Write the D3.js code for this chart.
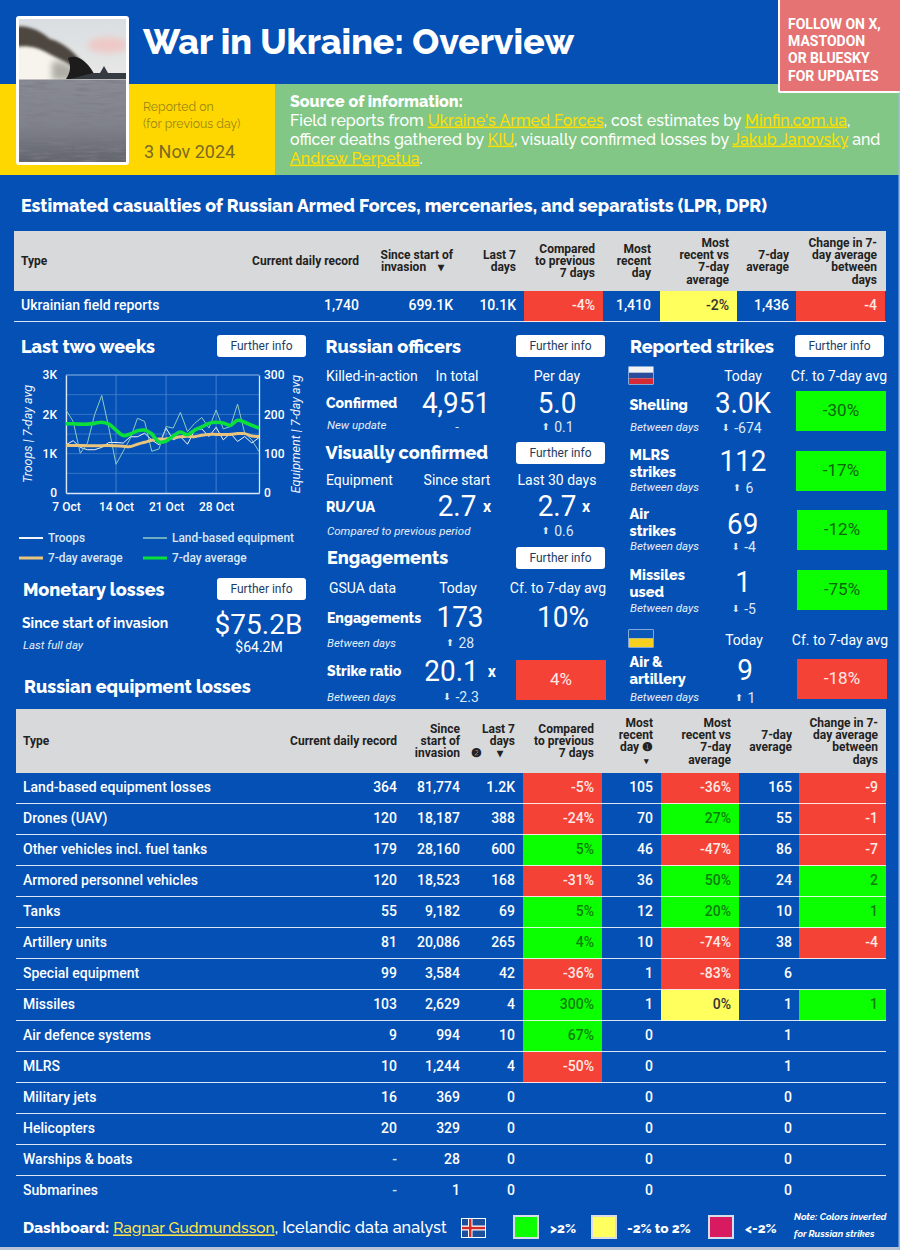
<!DOCTYPE html>
<html><head><meta charset="utf-8"><title>War in Ukraine: Overview</title>
<script src="https://cdn.jsdelivr.net/npm/d3@7"></script>
<style>html,body{margin:0;padding:0;background:#0450B4}svg{display:block}</style>
</head><body><div id="c"></div>
<script>
// ---------- chart data ----------
const troopsDaily=[1225,1330,1160,1100,1100,1160,1285,1285,1270,1430,1430,1520,1350,1225,1650,1350,1436,1240,1600,1630,1436,1670,1350,1520,1310,1436,1270,1410];
const troopsAvg=[1210,1210,1210,1200,1200,1200,1210,1200,1190,1180,1240,1290,1340,1370,1370,1410,1430,1440,1430,1470,1490,1490,1490,1490,1510,1510,1450,1436];
const equipDaily=[211,182,101,127,199,248,165,73,106,139,190,182,106,112,169,165,205,156,177,192,165,211,163,169,226,152,135,105];
const equipAvg=[176,176,175,175,177,180,175,160,146,150,158,160,150,130,132,145,155,148,160,168,177,180,178,172,185,180,172,165];
const axisDates=["2024-10-07","2024-10-14","2024-10-21","2024-10-28"];
const troopTicks=[0,1000,2000,3000];
const equipTicks=[0,100,200,300];
// ---------- casualties table ----------
const casualtyNames=["Ukrainian field reports"];
const casualtyRecord=["1,740"],casualtyTotal=["699.1K"],casualtyLast7=["10.1K"],casualtyCmp=[-4],casualtyRecent=["1,410"],casualtyVs=[-2],casualtyAvg=["1,436"],casualtyChange=[-4];
// ---------- equipment table ----------
const equipNames=["Land-based equipment losses","Drones (UAV)","Other vehicles incl. fuel tanks","Armored personnel vehicles","Tanks","Artillery units","Special equipment","Missiles","Air defence systems","MLRS","Military jets","Helicopters","Warships & boats","Submarines"];
const equipRecord=[364,120,179,120,55,81,99,103,9,10,16,20,null,null];
const equipTotal=[81774,18187,28160,18523,9182,20086,3584,2629,994,1244,369,329,28,1];
const equipLast7=["1.2K","388","600","168","69","265","42","4","10","4","0","0","0","0"];
const equipCmp=[-5,-24,5,-31,5,4,-36,300,67,-50,null,null,null,null];
const equipRecent=[105,70,46,36,12,10,1,1,0,0,0,0,0,0];
const equipVs=[-36,27,-47,50,20,-74,-83,0,null,null,null,null,null,null];
const equipAvg7=[165,55,86,24,10,38,6,1,1,1,0,0,0,0];
const equipChange=[-9,-1,-7,2,1,-4,null,1,null,null,null,null,null,null];
// ---------- strike cards ----------
const strikeLabels=[["Shelling"],["MLRS","strikes"],["Air","strikes"],["Missiles","used"],["Air &","artillery"]];
const strikeToday=["3.0K","112","69","1","9"];
const strikeDelta=[-674,6,-4,-5,1];
const strikeCf=[-30,-17,-12,-75,-18];
const strikeGood=[true,true,true,true,false];
// ---------- headers ----------
const SP="\u00A0";
const tableOneHeaders=[["Current daily record"],["Since start of","invasion"+SP.repeat(4)+"▾"+SP.repeat(3)],["Last 7","days"],["Compared","to previous","7 days"],["Most","recent","day"],["Most","recent vs","7-day","average"],["7-day","average"],["Change in 7-","day average","between","days"]];
const tableTwoHeaders=[["Current daily record"],["Since","start of","invasion"],["Last 7","days","❷"+SP.repeat(5)+"▾"+SP.repeat(4)],["Compared","to previous","7 days"],["Most","recent","day"+SP+"❶",""],["Most","recent vs","7-day","average"],["7-day","average"],["Change in 7-","day average","between","days"]];

// ---------- palette and fonts ----------
const BLUE="#0450B4",GREEN="#0CFF00",RED="#F44336",YELLOW="#FFFF5E",GREY="#D8D9DA";
const HEAD="Raleway,Lato,sans-serif",BODY="Roboto,sans-serif";

const svg=d3.select("#c").append("svg").attr("width",900).attr("height",1250).attr("viewBox","0 0 900 1250");
const defs=svg.append("defs");
function T(x,y,s,o={}){
  const t=svg.append("text").attr("x",x).attr("y",y).attr("dy",o.base?null:".35em")
   .attr("text-anchor",o.a||"start").attr("fill",o.c||"#fff")
   .style("font-family",o.f||BODY).style("font-size",(o.s||14)+"px").style("font-weight",o.w||400)
   .style("font-style",o.i?"italic":"normal").text(s);
  if(o.tf)t.attr("transform",o.tf);
  if(o.sx!==undefined)t.attr("data-sx",o.sx);
  return t;
}
const H=(x,y,s,o={})=>T(x,y,s,Object.assign({f:HEAD,w:800,s:18},o));

// ---------- banner ----------
svg.append("rect").attr("width",900).attr("height",1250).attr("fill",BLUE);
svg.append("rect").attr("x",0).attr("y",84).attr("width",275).attr("height",91).attr("fill","#FFD700");
svg.append("rect").attr("x",275).attr("y",84).attr("width",625).attr("height",91).attr("fill","#82C785");
svg.append("rect").attr("x",0).attr("y",1247).attr("width",900).attr("height",3).attr("fill","#B8C4D6");
svg.append("rect").attr("x",898.5).attr("y",0).attr("width",1.5).attr("height",1250).attr("fill","#9DBBE6");

// photo
const skyG=defs.append("linearGradient").attr("id","sky").attr("x1",0).attr("x2",0).attr("y1",0).attr("y2",1);
skyG.append("stop").attr("offset","0").attr("stop-color","#d9dee2");skyG.append("stop").attr("offset","1").attr("stop-color","#e8e8e6");
const seaG=defs.append("linearGradient").attr("id","sea").attr("x1",0).attr("x2",0).attr("y1",0).attr("y2",1);
seaG.append("stop").attr("offset","0").attr("stop-color","#888a94");seaG.append("stop").attr("offset",".55").attr("stop-color","#80828c");seaG.append("stop").attr("offset","1").attr("stop-color","#62646c");
defs.append("clipPath").attr("id","ph").append("rect").attr("x",19).attr("y",19).attr("width",107).attr("height",143);
defs.append("filter").attr("id","b3").attr("x","-40%").attr("y","-40%").attr("width","180%").attr("height","180%").append("feGaussianBlur").attr("stdDeviation",3);
defs.append("filter").attr("id","b2").attr("x","-40%").attr("y","-40%").attr("width","180%").attr("height","180%").append("feGaussianBlur").attr("stdDeviation",1.8);
defs.append("filter").attr("id","b1").attr("x","-20%").attr("y","-20%").attr("width","140%").attr("height","140%").append("feGaussianBlur").attr("stdDeviation",.7);
const ft=defs.append("filter").attr("id","waves").attr("x",0).attr("y",0).attr("width","100%").attr("height","100%");
ft.append("feTurbulence").attr("type","fractalNoise").attr("baseFrequency","0.04 0.34").attr("numOctaves",3).attr("seed",4);
ft.append("feColorMatrix").attr("values","0 0 0 0 0.2  0 0 0 0 0.2  0 0 0 0 0.24  2.2 0 0 0 -1.0");
svg.append("rect").attr("x",16).attr("y",16).attr("width",113).attr("height",149).attr("rx",3).attr("fill","#fff");
const ph=svg.append("g").attr("clip-path","url(#ph)");
ph.append("rect").attr("x",19).attr("y",19).attr("width",107).attr("height",62).attr("fill","url(#sky)");
ph.append("ellipse").attr("cx",108).attr("cy",45).attr("rx",20).attr("ry",8).attr("fill","#eec9c6").attr("filter","url(#b3)");
ph.append("path").attr("d","M14 42 L40 48 C55 54 70 60 76 80 L14 82Z").attr("fill","#f6f4ec").attr("filter","url(#b2)");
ph.append("path").attr("d","M52 62 C62 60 74 64 80 80 L52 80Z").attr("fill","#aeada6").attr("filter","url(#b3)");
ph.append("path").attr("d","M14 27 C28 24 42 32 50 39 C62 42 72 50 82 62 L78 70 C68 62 56 58 46 52 C36 47 28 45 14 47Z").attr("fill","#4d463f").attr("filter","url(#b2)");
ph.append("path").attr("d","M68 58 C76 54 86 60 93 72 L96 79 L66 79 C72 70 70 64 68 58Z").attr("fill","#1b1c1e").attr("filter","url(#b1)");
ph.append("path").attr("d","M70 79 L93 73 L100 73 L104 66 L108 73 L126 73 L126 79Z").attr("fill","#363b42");
ph.append("rect").attr("x",19).attr("y",79.5).attr("width",107).attr("height",83).attr("fill","url(#sea)");
ph.append("rect").attr("x",19).attr("y",80).attr("width",107).attr("height",82).attr("filter","url(#waves)");

H(143,54,"War in Ukraine: Overview",{s:36,base:1,sx:.985});
T(143,107,"Reported on",{s:12.3,c:"#9a8514",f:HEAD});
T(143,124,"(for previous day)",{s:12.3,c:"#9a8514",f:HEAD});
T(144,152,"3 Nov 2024",{s:18,c:"#7a6a22"});

// source text
function rich(x,y,parts,o){
  const t=T(x,y,null,o);
  parts.forEach(p=>{const sp=t.append("tspan").text(p[0]);
    if(p[1]){sp.attr("fill",o.link).style("text-decoration","underline");}});
  return t;
}
H(290,101,"Source of information:",{s:16});
const sOpts={s:15.9,f:HEAD,w:500,link:"#FFDF00"};
rich(290,120,[["Field reports from "],["Ukraine's Armed Forces",1],[", cost estimates by "],["Minfin.com.ua",1],[","]],sOpts);
rich(290,139,[["officer deaths gathered by "],["KIU",1],[", visually confirmed losses by "],["Jakub Janovsky",1],[" and"]],sOpts);
rich(290,158,[["Andrew Perpetua",1],["."]],sOpts);

// follow box
svg.append("rect").attr("x",778).attr("y",-3).attr("width",122).attr("height",96).attr("rx",2).attr("fill","#fff");
svg.append("rect").attr("x",780).attr("y",-3).attr("width",120).attr("height",94).attr("fill","#E57373");
["FOLLOW ON X,","MASTODON","OR BLUESKY","FOR UPDATES"].forEach((s,i)=>T(788,24+i*17.2,s,{s:14,w:700}));

// ---------- tables ----------
H(21,205.5,"Estimated casualties of Russian Armed Forces, mercenaries, and separatists (LPR, DPR)",{s:17.8});
function cellColor(v,lo){return v>lo?GREEN:(v<-lo?RED:YELLOW);}
function inkFor(fill){return fill===GREEN?"#0B7F0B":fill===YELLOW?"#333":"#FFE9E6";}

function drawTable(cfg){
  const n=cfg.names.length;
  const rowY=d3.scaleBand().domain(d3.range(n)).range([cfg.top,cfg.top+cfg.rowH*n]);
  const mid=(cfg.headTop+cfg.top)/2,lh=12.2;
  svg.append("rect").attr("x",cfg.x0).attr("y",cfg.headTop).attr("width",cfg.x1-cfg.x0).attr("height",cfg.top-cfg.headTop).attr("fill",GREY);
  T(cfg.typeX,mid,"Type",{s:12,w:700,c:"#222"});
  cfg.headers.forEach((lines,c)=>{
    lines.forEach((l,i)=>{ if(l) T(cfg.right[c],mid+(i-(lines.length-1)/2)*lh,l,{s:12,w:700,c:"#222",a:"end"}); });
  });
  if(cfg.extraArrow) T(cfg.extraArrow[0],cfg.extraArrow[1],"▾",{s:9,w:700,c:"#222",a:"middle"});
  [[cfg.cmp,cfg.band[0],2],[cfg.vs,cfg.band[1],2],[cfg.chg,cfg.band[2],0]].forEach(([vals,b,lo])=>{
    svg.append("g").selectAll("rect").data(vals.map((v,i)=>({v,i})).filter(d=>d.v!==null)).join("rect")
      .attr("x",b[0]).attr("width",b[1]-b[0]).attr("y",d=>rowY(d.i)).attr("height",rowY.bandwidth()).attr("fill",d=>cellColor(d.v,lo));
  });
  const cols=[cfg.rec,cfg.tot,cfg.l7,cfg.cmp,cfg.recent,cfg.vs,cfg.avg,cfg.chg];
  cfg.names.forEach((name,i)=>{
    const y=rowY(i)+rowY.bandwidth()/2-1;
    T(cfg.typeX,y,name,{s:14,w:500});
    cols.forEach((col,c)=>{
      const v=col[i]; if(v===null&&c!==0)return;
      let str,ink="#fff";
      if(c===3||c===5){str=v+"%";ink=inkFor(cellColor(v,2));}
      else if(c===7){str=String(v);ink=inkFor(cellColor(v,0));}
      else str=v===null?"-":(typeof v==="number"?d3.format(",")(v):v);
      T(cfg.right[c],y,str,{s:14,a:"end",c:v===null?"#cfe0f5":ink,w:500});
    });
    if(!(cfg.noLast&&i===n-1))svg.append("line").attr("x1",cfg.x0).attr("x2",cfg.x1).attr("y1",rowY(i)+rowY.bandwidth()-.5).attr("y2",rowY(i)+rowY.bandwidth()-.5)
      .attr("stroke","#fff").attr("stroke-opacity",.85).attr("stroke-width",1);
  });
}
drawTable({names:casualtyNames,rec:casualtyRecord,tot:casualtyTotal,l7:casualtyLast7,cmp:casualtyCmp,recent:casualtyRecent,vs:casualtyVs,avg:casualtyAvg,chg:casualtyChange,
  headers:tableOneHeaders,x0:14,x1:886,typeX:21,headTop:231,top:291,rowH:31,
  right:[359,453,516,595,651,729,789,877],band:[[524,603],[660,737],[796,885]]});
drawTable({names:equipNames,rec:equipRecord,tot:equipTotal,l7:equipLast7,cmp:equipCmp,recent:equipRecent,vs:equipVs,avg:equipAvg7,chg:equipChange,
  headers:tableTwoHeaders,x0:16,x1:886,typeX:23,headTop:709,top:773,rowH:31,noLast:true,extraArrow:[646,761],
  right:[397,460,515,594,653,731,792,878],band:[[523,602],[661,739],[799,886]]});

// ---------- panels ----------
function btn(x,y){
  svg.append("rect").attr("x",x).attr("y",y).attr("width",89).attr("height",22).attr("rx",3).attr("fill","#fff");
  T(x+44.5,y+11,"Further info",{s:12,a:"middle",c:"#1C3D66"});
}
function arrow(x,y,v){
  const up=v>=0;
  T(x,y,up?"⬆":"⬇",{s:9.5,f:"DejaVu Sans,sans-serif",c:"#DCE8F6",a:"middle"});
  T(x+8.5,y,String(v),{s:14,c:"#DCE8F6"});
}
const sub=(x,y,s)=>T(x,y,s,{s:11.5,i:1,c:"#E6EEF8"});

// last two weeks
H(21,346.5,"Last two weeks");btn(217,335);
const days=d3.timeDay.range(new Date(2024,9,7),new Date(2024,10,4));
const x=d3.scaleTime().domain([days[0],days[days.length-1]]).range([66,259]);
const yT=d3.scaleLinear().domain([0,3000]).range([493,375]);
const yE=d3.scaleLinear().domain([0,300]).range([493,375]);
const tickDates=axisDates.map(d=>d3.timeParse("%Y-%m-%d")(d));
const g=svg.append("g");
g.selectAll(".gv").data(tickDates).join("line").attr("x1",d=>x(d)).attr("x2",d=>x(d)).attr("y1",375).attr("y2",493).attr("stroke","#5f93d6").attr("stroke-width",.7);
g.selectAll(".gh").data(d3.range(500,3000,500)).join("line").attr("x1",66).attr("x2",259).attr("y1",d=>yT(d)).attr("y2",d=>yT(d)).attr("stroke","#4b85cf").attr("stroke-width",.7);
const style=(a)=>{a.select(".domain").attr("stroke","#DCE8F6").attr("stroke-width",1.3);a.selectAll(".tick line").remove();
  a.selectAll("text").attr("fill","#fff").style("font-family",BODY).style("font-size","12px").style("font-weight",500);};
g.append("g").attr("transform","translate(66,0)").call(d3.axisLeft(yT).tickValues(troopTicks).tickSize(0).tickPadding(9).tickFormat(d=>d?d/1000+"K":"0")).call(style);
g.append("g").attr("transform","translate(259,0)").call(d3.axisRight(yE).tickValues(equipTicks).tickSize(0).tickPadding(5)).call(style);
g.append("g").attr("transform","translate(0,493)").call(d3.axisBottom(x).tickValues(tickDates).tickSize(0).tickPadding(9).tickFormat(d3.timeFormat("%-d %b"))).call(style);
g.append("line").attr("x1",66).attr("x2",259).attr("y1",375).attr("y2",375).attr("stroke","#8FB4E6").attr("stroke-width",1);
const lineT=d3.line().x((d,i)=>x(days[i])).y(d=>yT(d));
const lineE=d3.line().x((d,i)=>x(days[i])).y(d=>yE(d));
const lineTs=d3.line().x((d,i)=>x(days[i])).y(d=>yT(d)).curve(d3.curveCatmullRom);
const lineEs=d3.line().x((d,i)=>x(days[i])).y(d=>yE(d)).curve(d3.curveCatmullRom);
const PATH=(d,c,w)=>g.append("path").attr("d",d).attr("fill","none").attr("stroke",c).attr("stroke-width",w).attr("stroke-linejoin","round");
PATH(lineT(troopsDaily),"#F2F6FC",1);
PATH(lineE(equipDaily),"#8FCBC2",1);
PATH(lineTs(troopsAvg),"#EAC47C",3);
PATH(lineEs(equipAvg),"#0BE03A",3.6);
T(0,0,"Troops | 7-day avg",{s:12.5,i:1,a:"middle",tf:"translate(28,434) rotate(-90)",c:"#F0F5FB"});
T(0,0,"Equipment | 7-day avg",{s:12.5,i:1,a:"middle",tf:"translate(296,434) rotate(-90)",c:"#F0F5FB"});
[[19,538,"Troops","#F2F6FC",2],[143,538,"Land-based equipment","#8FCBC2",1.5],[19,558,"7-day average","#EAC47C",3],[143,558,"7-day average","#0BE03A",3]].forEach(([lx,ly,s,c,w])=>{
  svg.append("line").attr("x1",lx).attr("x2",lx+24).attr("y1",ly).attr("y2",ly).attr("stroke",c).attr("stroke-width",w);
  T(lx+29,ly,s,{s:12.5,w:500,c:"#DCE8F6",sx:.95});
});

// monetary
H(23,590,"Monetary losses");btn(217,578);
T(22,623,"Since start of invasion",{s:14,w:700,f:HEAD});
sub(23,645,"Last full day");
T(258.5,634,"$75.2B",{s:28,a:"middle",base:1});
T(259,647,"$64.2M",{s:14,a:"middle"});
H(24,687,"Russian equipment losses");

// officers
const big=(x,y,s)=>T(x,y,s,{s:30,a:"middle",base:1,sx:.93});
H(325.6,346.7,"Russian officers");btn(516,335);
T(326,376,"Killed-in-action",{s:14});T(457,376,"In total",{s:14,a:"middle"});T(557,376,"Per day",{s:14,a:"middle"});
H(326,403,"Confirmed",{s:14});big(456,413,"4,951");big(557,413,"5.0");
sub(327,425,"New update");T(457,426,"-",{s:13,a:"middle",c:"#DCE8F6"});arrow(545.7,427,0.1);

// visually confirmed
H(325.6,453,"Visually confirmed");btn(516,442);
T(326,480,"Equipment",{s:14});T(457,480,"Since start",{s:14,a:"middle"});T(557,480,"Last 30 days",{s:14,a:"middle"});
H(326,507.5,"RU/UA",{s:14});big(457,515.7,"2.7");T(487,506,"x",{s:16,w:700,a:"middle"});big(557,515.7,"2.7");T(586,506,"x",{s:16,w:700,a:"middle"});
sub(327,531,"Compared to previous period");arrow(545.7,531,0.6);

// engagements
H(327,557.7,"Engagements");btn(516,547);
T(329,588,"GSUA data",{s:14});T(458,588,"Today",{s:14,a:"middle"});T(558,588,"Cf. to 7-day avg",{s:14,a:"middle"});
H(327,617.7,"Engagements",{s:14});big(460,627,"173");big(563,627,"10%");
sub(327,643,"Between days");arrow(450,643,28);
H(327,671,"Strike ratio",{s:14});big(451.5,681,"20.1");T(491.7,671,"x",{s:16,w:700,a:"middle"});
sub(327,697,"Between days");arrow(447,697,-2.3);
svg.append("rect").attr("x",516).attr("y",660).attr("width",90).attr("height",40).attr("fill",RED);
T(561,679,"4%",{s:17,a:"middle",c:"#FFE9E6"});

// reported strikes
H(630,346.7,"Reported strikes");btn(795,335);
function flag(fx,fy,cols){
  svg.append("rect").attr("x",fx-.5).attr("y",fy-.5).attr("width",25).attr("height",18).attr("fill","#fff");
  const yb=d3.scaleBand().domain(d3.range(cols.length)).range([fy,fy+17]);
  cols.forEach((c,i)=>svg.append("rect").attr("x",fx).attr("y",yb(i)).attr("width",24).attr("height",yb.bandwidth()).attr("fill",c));
}
flag(629,367,["#F2F2F4","#2A4C9A","#D42A36"]);
T(743,376,"Today",{s:14,a:"middle"});T(839,376,"Cf. to 7-day avg",{s:14,a:"middle"});
flag(629,630,["#0B57B7","#F7CF1E"]);
T(744,640,"Today",{s:14,a:"middle"});T(840,640,"Cf. to 7-day avg",{s:14,a:"middle"});
const labelY=[[405],[455,471.7],[514,531],[575,591.7],[661.7,679]];
const subY=[427,487,546,608,696.7];
const todayY=[412.7,470.7,534,591.7,680];
const todayX=[743,743,742.7,743,745];
const arrowX=[725.7,737,735.7,735.7,739];
const boxes=[[796,391],[796,451],[797,510],[797,570],[797,659]];
strikeLabels.forEach((ls,i)=>{
  ls.forEach((l,j)=>H(629.5,labelY[i][j],l,{s:14.5}));
  sub(630,subY[i],"Between days");
  big(todayX[i],todayY[i],strikeToday[i]);
  arrow(arrowX[i],subY[i]+1,strikeDelta[i]);
  svg.append("rect").attr("x",boxes[i][0]).attr("y",boxes[i][1]).attr("width",90).attr("height",40).attr("fill",strikeGood[i]?GREEN:RED);
  T(boxes[i][0]+45,boxes[i][1]+19.5,strikeCf[i]+"%",{s:17,a:"middle",c:strikeGood[i]?"#0B660B":"#FFE9E6"});
});

// ---------- footer ----------
const ft2=T(23,1228,null,{s:15.5,f:HEAD,w:500});
ft2.append("tspan").text("Dashboard:").style("font-weight",800);
ft2.append("tspan").text(" ");
ft2.append("tspan").text("Ragnar Gudmundsson").attr("fill","#FFE34D").style("text-decoration","underline");
ft2.append("tspan").text(", Icelandic data analyst").style("font-size","16.2px");
svg.append("rect").attr("x",461).attr("y",1218).attr("width",25).attr("height",20).attr("fill","#fff");
svg.append("rect").attr("x",462).attr("y",1219).attr("width",23).attr("height",18).attr("fill","#1B4F9C");
svg.append("rect").attr("x",468).attr("y",1219).attr("width",4.5).attr("height",18).attr("fill","#fff");
svg.append("rect").attr("x",462).attr("y",1225.5).attr("width",23).attr("height",5).attr("fill","#fff");
svg.append("rect").attr("x",469).attr("y",1219).attr("width",2.5).attr("height",18).attr("fill","#D72828");
svg.append("rect").attr("x",462).attr("y",1226.8).attr("width",23).attr("height",2.5).attr("fill","#D72828");
[[513,GREEN,">2%",550],[591,"#FFFF5E","-2% to 2%",627],[708,"#D81B60","<-2%",745]].forEach(([lx,c,s,tx])=>{
  svg.append("rect").attr("x",lx).attr("y",1215).attr("width",26).attr("height",24).attr("fill","#D6DDE8");
  svg.append("rect").attr("x",lx+2).attr("y",1217).attr("width",22).attr("height",20).attr("fill",c);
  T(tx,1228,s,{s:13.6,w:800,f:HEAD});
});
T(794,1217,"Note: Colors inverted",{s:9.5,w:700,i:1,f:HEAD});
T(794,1234,"for Russian strikes",{s:9.5,w:700,i:1,f:HEAD});

// some figures in the source screenshot are slightly condensed horizontally
svg.selectAll("text").each(function(){
  const n=this.getAttribute("data-sx");
  if(n===null)return;
  this.setAttribute("textLength",this.getComputedTextLength()*(+n));
  this.setAttribute("lengthAdjust","spacingAndGlyphs");
});
</script></body></html>
